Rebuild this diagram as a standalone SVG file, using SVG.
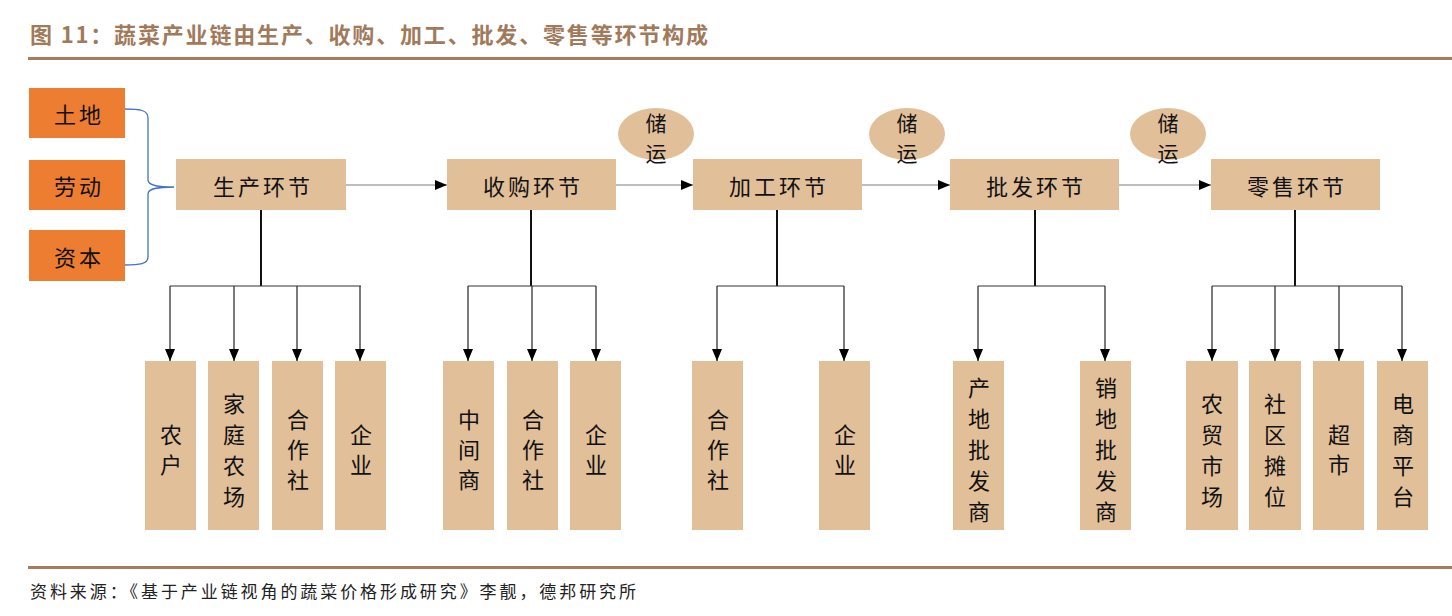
<svg xmlns="http://www.w3.org/2000/svg" width="1452" height="616" viewBox="0 0 1452 616">
<defs>
<style>
text{font-family:"Noto Sans CJK SC","Noto Sans CJK TC",sans-serif;fill:#111;}
.t{font-size:22px;text-anchor:middle;dominant-baseline:central;letter-spacing:3px;}
.v{font-size:22px;text-anchor:middle;dominant-baseline:central;}
.e{font-size:21px;text-anchor:middle;dominant-baseline:central;}
.main{fill:#E1BF99;}
.in{fill:#ED7D31;}
.ch{fill:#E1BF99;}
.arr{stroke:#7F7F7F;stroke-width:1.2;fill:none;marker-end:url(#ah);}
.drop{stroke:#222;stroke-width:1.2;fill:none;marker-end:url(#ah2);}
.stem{stroke:#111;stroke-width:2;fill:none;}
.bus{stroke:#333;stroke-width:1.2;fill:none;}
</style>
<marker id="ah" markerWidth="12" markerHeight="10" refX="12" refY="5" orient="auto" markerUnits="userSpaceOnUse"><path d="M0,0 L12,5 L0,10 Z" fill="#000"/></marker>
<marker id="ah2" markerWidth="12" markerHeight="10" refX="12" refY="5" orient="auto" markerUnits="userSpaceOnUse"><path d="M0,0 L12,5 L0,10 Z" fill="#000"/></marker>
</defs>
<rect width="1452" height="616" fill="#fff"/>
<g id="title">
<text x="30" y="43" style="font-size:22px;font-weight:bold;fill:#A07A5B" textLength="678" lengthAdjust="spacing">图 11：蔬菜产业链由生产、收购、加工、批发、零售等环节构成</text>
<rect x="28" y="57" width="1424" height="3" fill="#A57D5E"/>
</g>
<g id="connectors">
<path d="M124,109 C140,109 148,110 148,118 L148,180 C148,186 160,187 174,187 C160,187 148,188 148,194 L148,257 C148,264 140,265 124,265" stroke="#4472C4" stroke-width="1.3" fill="none"/>
<line class="arr" x1="346" y1="185" x2="447" y2="185"/>
<line class="arr" x1="616" y1="185" x2="693" y2="185"/>
<line class="arr" x1="862" y1="185" x2="950" y2="185"/>
<line class="arr" x1="1119" y1="185" x2="1211" y2="185"/>
<line class="stem" x1="261" y1="210" x2="261" y2="286"/>
<line class="bus" x1="170" y1="286" x2="361" y2="286"/>
<line class="drop" x1="170" y1="286" x2="170" y2="361"/>
<line class="drop" x1="234" y1="286" x2="234" y2="361"/>
<line class="drop" x1="297" y1="286" x2="297" y2="361"/>
<line class="drop" x1="360" y1="286" x2="360" y2="361"/>
<line class="stem" x1="531" y1="210" x2="531" y2="286"/>
<line class="bus" x1="468" y1="286" x2="596" y2="286"/>
<line class="drop" x1="468" y1="286" x2="468" y2="361"/>
<line class="drop" x1="532" y1="286" x2="532" y2="361"/>
<line class="drop" x1="596" y1="286" x2="596" y2="361"/>
<line class="stem" x1="777" y1="210" x2="777" y2="286"/>
<line class="bus" x1="717" y1="286" x2="844" y2="286"/>
<line class="drop" x1="717" y1="286" x2="717" y2="361"/>
<line class="drop" x1="844" y1="286" x2="844" y2="361"/>
<line class="stem" x1="1035" y1="210" x2="1035" y2="286"/>
<line class="bus" x1="978" y1="286" x2="1105" y2="286"/>
<line class="drop" x1="978" y1="286" x2="978" y2="361"/>
<line class="drop" x1="1105" y1="286" x2="1105" y2="361"/>
<line class="stem" x1="1295" y1="210" x2="1295" y2="286"/>
<line class="bus" x1="1212" y1="286" x2="1402" y2="286"/>
<line class="drop" x1="1212" y1="286" x2="1212" y2="361"/>
<line class="drop" x1="1275" y1="286" x2="1275" y2="361"/>
<line class="drop" x1="1339" y1="286" x2="1339" y2="361"/>
<line class="drop" x1="1402" y1="286" x2="1402" y2="361"/>
</g>
<g id="in-land"><rect class="in" x="29" y="88" width="96" height="50"/><text class="t" x="79" y="113">土地</text></g>
<g id="in-labor"><rect class="in" x="29" y="160" width="96" height="50"/><text class="t" x="79" y="185">劳动</text></g>
<g id="in-capital"><rect class="in" x="29" y="230" width="96" height="51"/><text class="t" x="79" y="256">资本</text></g>
<g id="s-production"><rect class="main" x="176" y="159" width="170" height="51"/><text class="t" x="263" y="185">生产环节</text></g>
<g id="s-purchase"><rect class="main" x="447" y="159" width="169" height="51"/><text class="t" x="533" y="185">收购环节</text></g>
<g id="s-process"><rect class="main" x="693" y="159" width="169" height="51"/><text class="t" x="779" y="185">加工环节</text></g>
<g id="s-wholesale"><rect class="main" x="950" y="159" width="169" height="51"/><text class="t" x="1036" y="185">批发环节</text></g>
<g id="s-retail"><rect class="main" x="1211" y="159" width="169" height="51"/><text class="t" x="1297" y="185">零售环节</text></g>
<g id="storage1"><ellipse class="main" cx="656" cy="134" rx="38" ry="26"/><text class="e" x="656" y="122">储</text><text class="e" x="656" y="152">运</text></g>
<g id="storage2"><ellipse class="main" cx="907" cy="134" rx="38" ry="26"/><text class="e" x="907" y="122">储</text><text class="e" x="907" y="152">运</text></g>
<g id="storage3"><ellipse class="main" cx="1168" cy="134" rx="38" ry="26"/><text class="e" x="1168" y="122">储</text><text class="e" x="1168" y="152">运</text></g>
<g id="c-farmer"><rect class="ch" x="145" y="361" width="51" height="169"/><text class="v" x="171" y="433">农</text><text class="v" x="171" y="463">户</text></g>
<g id="c-familyfarm"><rect class="ch" x="208" y="361" width="51" height="169"/><text class="v" x="234" y="402">家</text><text class="v" x="234" y="433">庭</text><text class="v" x="234" y="464">农</text><text class="v" x="234" y="495">场</text></g>
<g id="c-coop1"><rect class="ch" x="272" y="361" width="51" height="169"/><text class="v" x="298" y="418">合</text><text class="v" x="298" y="448">作</text><text class="v" x="298" y="478">社</text></g>
<g id="c-ent1"><rect class="ch" x="335" y="361" width="51" height="169"/><text class="v" x="361" y="433">企</text><text class="v" x="361" y="463">业</text></g>
<g id="c-middleman"><rect class="ch" x="443" y="361" width="51" height="169"/><text class="v" x="469" y="418">中</text><text class="v" x="469" y="448">间</text><text class="v" x="469" y="478">商</text></g>
<g id="c-coop2"><rect class="ch" x="507" y="361" width="51" height="169"/><text class="v" x="533" y="418">合</text><text class="v" x="533" y="448">作</text><text class="v" x="533" y="478">社</text></g>
<g id="c-ent2"><rect class="ch" x="570" y="361" width="51" height="169"/><text class="v" x="596" y="433">企</text><text class="v" x="596" y="463">业</text></g>
<g id="c-coop3"><rect class="ch" x="692" y="361" width="51" height="169"/><text class="v" x="718" y="418">合</text><text class="v" x="718" y="448">作</text><text class="v" x="718" y="478">社</text></g>
<g id="c-ent3"><rect class="ch" x="819" y="361" width="51" height="169"/><text class="v" x="845" y="433">企</text><text class="v" x="845" y="463">业</text></g>
<g id="c-origin"><rect class="ch" x="953" y="361" width="51" height="169"/><text class="v" x="979" y="386">产</text><text class="v" x="979" y="417">地</text><text class="v" x="979" y="448">批</text><text class="v" x="979" y="479">发</text><text class="v" x="979" y="510">商</text></g>
<g id="c-dest"><rect class="ch" x="1080" y="361" width="51" height="169"/><text class="v" x="1106" y="386">销</text><text class="v" x="1106" y="417">地</text><text class="v" x="1106" y="448">批</text><text class="v" x="1106" y="479">发</text><text class="v" x="1106" y="510">商</text></g>
<g id="c-market"><rect class="ch" x="1186" y="361" width="52" height="169"/><text class="v" x="1212" y="402">农</text><text class="v" x="1212" y="433">贸</text><text class="v" x="1212" y="464">市</text><text class="v" x="1212" y="495">场</text></g>
<g id="c-stall"><rect class="ch" x="1249" y="361" width="52" height="169"/><text class="v" x="1275" y="402">社</text><text class="v" x="1275" y="433">区</text><text class="v" x="1275" y="464">摊</text><text class="v" x="1275" y="495">位</text></g>
<g id="c-super"><rect class="ch" x="1313" y="361" width="51" height="169"/><text class="v" x="1339" y="433">超</text><text class="v" x="1339" y="463">市</text></g>
<g id="c-ecom"><rect class="ch" x="1377" y="361" width="51" height="169"/><text class="v" x="1403" y="402">电</text><text class="v" x="1403" y="433">商</text><text class="v" x="1403" y="464">平</text><text class="v" x="1403" y="495">台</text></g>
<g id="footer">
<rect x="28" y="566" width="1424" height="3" fill="#A57D5E"/>
<text x="30" y="598" style="font-size:17px;fill:#222" textLength="606" lengthAdjust="spacing">资料来源：《基于产业链视角的蔬菜价格形成研究》李靓，德邦研究所</text>
</g>
</svg>
